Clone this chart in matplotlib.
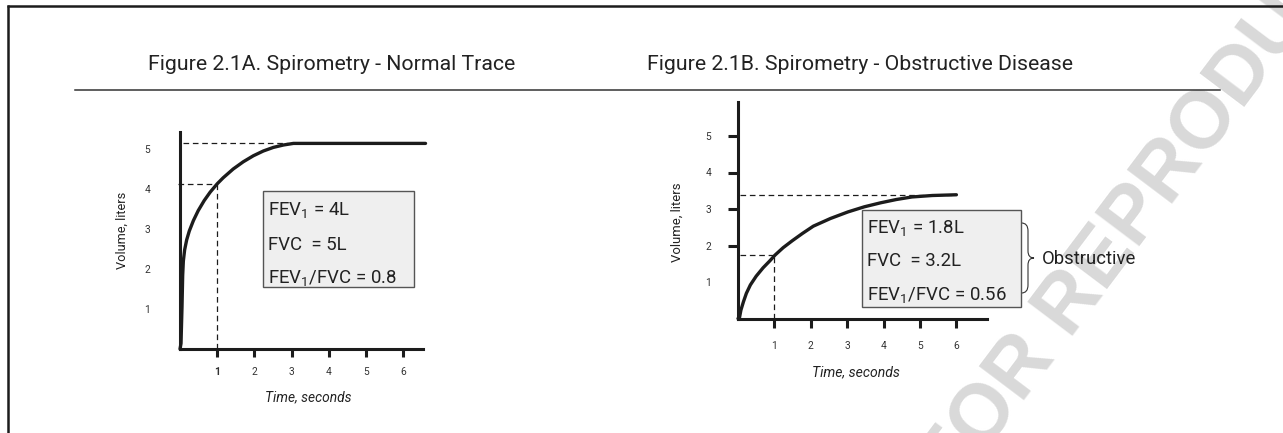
import matplotlib
matplotlib.use("Agg")
import matplotlib.pyplot as plt
from matplotlib.patches import Rectangle, PathPatch
from matplotlib.path import Path
from matplotlib.lines import Line2D
from matplotlib.transforms import Affine2D

# ---------------- data ----------------
title_a = "Figure 2.1A. Spirometry - Normal Trace"
title_b = "Figure 2.1B. Spirometry - Obstructive Disease"
x_label = "Time, seconds"
y_label = "Volume, liters"
x_ticks = [1, 2, 3, 4, 5, 6]
y_ticks = [1, 2, 3, 4, 5]

# normal trace (time s, volume L)
normal_t = [0, 0.027, 0.054, 0.072, 0.09, 0.125, 0.18, 0.25, 0.36, 0.49, 0.65, 0.81, 1.0,
            1.16, 1.43, 1.70, 1.97, 2.24, 2.51, 2.78, 3.05, 6.6]
normal_v = [0, 0.14, 1.06, 1.84, 2.20, 2.48, 2.73, 2.95, 3.21, 3.46, 3.71, 3.92, 4.13,
            4.28, 4.50, 4.68, 4.83, 4.95, 5.04, 5.10, 5.14, 5.14]
normal_fev1_level = 4.13
normal_fvc_level = 5.14
normal_fvc_time = 2.9
normal_text = [r"FEV$_1$ = 4L", "FVC  = 5L", r"FEV$_1$/FVC = 0.8"]

# obstructive trace
obs_t = [0, 0.04, 0.08, 0.15, 0.23, 0.34, 0.50, 0.69, 0.875, 1.02, 1.24, 1.49, 1.77, 2.07,
         2.54, 3.02, 3.47, 3.92, 4.35, 4.78, 5.34, 6.0]
obs_v = [0, 0.02, 0.23, 0.46, 0.69, 0.92, 1.16, 1.39, 1.58, 1.74, 1.94, 2.13, 2.33, 2.53,
         2.74, 2.92, 3.06, 3.17, 3.26, 3.33, 3.37, 3.39]
obs_fev1_level = 1.74
obs_fvc_level = 3.38
obs_fvc_time = 5.9
obs_text = [r"FEV$_1$ = 1.8L", "FVC  = 3.2L", r"FEV$_1$/FVC = 0.56"]
obs_note = "Obstructive"
watermark = "NOT FOR REPRODUCTION"

# ---------------- style ----------------
W, H = 1283, 433
FONT = "Roboto"
plt.rcParams["font.family"] = [FONT, "DejaVu Sans"]
plt.rcParams["mathtext.fontset"] = "custom"
plt.rcParams["mathtext.rm"] = FONT
plt.rcParams["mathtext.it"] = FONT + ":italic"
plt.rcParams["mathtext.bf"] = FONT + ":bold"

INK = "#1c1c1c"
TXT = "#222222"

fig = plt.figure(figsize=(W / 100, H / 100), dpi=100)
fig.patch.set_facecolor("white")
px = Affine2D().scale(1.0 / W, -1.0 / H).translate(0, 1) + fig.transFigure
renderer = fig.canvas.get_renderer()


def fit(t, target):
    w = t.get_window_extent(renderer).width
    t.set_fontsize(t.get_fontsize() * target / w)
    return t


# watermark (behind everything), ~80 px em
fig.text(1150, 232, watermark, transform=px, ha="center", va="baseline",
         rotation=53, rotation_mode="anchor", fontsize=58,
         fontfamily=["Liberation Sans", "DejaVu Sans"], fontweight="bold",
         color="#d9d9d9", zorder=-5)

# frame lines
fig.add_artist(Line2D([7, W], [5.5, 5.5], transform=px, color=INK, lw=1.8, solid_capstyle="butt"))
fig.add_artist(Line2D([8, 8], [4.6, H], transform=px, color=INK, lw=1.8, solid_capstyle="butt"))
fig.add_artist(Line2D([75, 1220], [90, 90], transform=px, color="#333333", lw=1.1))

# titles
tb = fig.text(647, 70.5, title_b, transform=px, ha="left", va="baseline", fontsize=14, color=TXT)
fit(tb, 430)
ta = fig.text(148, 70.5, title_a, transform=px, ha="left", va="baseline",
              fontsize=tb.get_fontsize(), color=TXT)


def make_axes(left, right, top, bottom, xs, ys):
    ax = fig.add_axes([left / W, 1 - bottom / H, (right - left) / W, (bottom - top) / H])
    ax.set_facecolor("none")
    ax.set_xlim(0, (right - left) / xs)
    ax.set_ylim(0, (bottom - top) / ys)
    for s in ("top", "right"):
        ax.spines[s].set_visible(False)
    for s in ("left", "bottom"):
        ax.spines[s].set_linewidth(2.2)
        ax.spines[s].set_color(INK)
        ax.spines[s].set_capstyle("projecting")
    ax.set_xticks(x_ticks)
    ax.set_xticklabels([str(v) for v in x_ticks])
    ax.set_yticks(y_ticks)
    ax.set_yticklabels([str(v) for v in y_ticks])
    return ax


dash = (0, (4.5, 3.0))

# ---------------- panel A ----------------
axA = make_axes(180, 423, 132, 349, 37.2, 40.0)
axA.tick_params(axis="x", direction="out", length=5.5, width=2.2, pad=7.5,
                labelsize=7.4, color=INK, labelcolor="#333333")
axA.tick_params(axis="y", length=0, pad=21.5, labelsize=7.4, labelcolor="#333333")
axA.get_xticklabels()[0].set_fontweight("bold")
axA.plot(normal_t, normal_v, color=INK, lw=2.4, solid_capstyle="round",
         solid_joinstyle="round", clip_on=False, zorder=4)
axA.plot([0.08, normal_fvc_time], [normal_fvc_level] * 2, color=INK, lw=0.9, ls=dash, clip_on=False)
axA.plot([-0.05, 1], [normal_fev1_level] * 2, color=INK, lw=0.9, ls=dash, clip_on=False)
axA.plot([1, 1], [0, normal_fev1_level], color=INK, lw=0.9, ls=dash, clip_on=False)

# ---------------- panel B ----------------
axB = make_axes(738, 987, 102, 318.5, 36.4, 36.5)
axB.tick_params(axis="x", direction="out", length=6.5, width=2.2, pad=9.5,
                labelsize=7.4, color=INK, labelcolor="#333333")
axB.tick_params(axis="y", direction="out", length=7.2, width=2.2, pad=12,
                labelsize=7.4, color=INK, labelcolor="#333333")
axB.yaxis.get_major_ticks()[0].tick1line.set_visible(False)
axB.plot(obs_t, obs_v, color=INK, lw=2.4, solid_capstyle="round",
         solid_joinstyle="round", clip_on=False, zorder=4)
axB.plot([0.05, obs_fvc_time], [obs_fvc_level] * 2, color=INK, lw=0.9, ls=dash, clip_on=False)
axB.plot([0.05, 1], [obs_fev1_level] * 2, color=INK, lw=0.9, ls=dash, clip_on=False)
axB.plot([1, 1], [0, obs_fev1_level], color=INK, lw=0.9, ls=dash, clip_on=False)

# ---------------- axis labels ----------------
def ylabel(xc, yc, length):
    t = fig.text(xc, yc, y_label, transform=px, ha="center", va="center", fontsize=9, color=TXT)
    fit(t, length)
    t.set_rotation(90)
    return t


def xlabel(xc, yc, length):
    t = fig.text(xc, yc, x_label, transform=px, ha="center", va="center", fontsize=9,
                 style="italic", color=TXT)
    return fit(t, length)


ylabel(122, 230, 78)
ylabel(677, 222, 80)
xlabel(308, 397, 86)
xlabel(856, 372, 88)

# ---------------- boxes ----------------
def box(x0, y0, x1, y1):
    r = Rectangle((x0, y0), x1 - x0, y1 - y0, transform=px, facecolor="#efefef",
                  edgecolor="#555555", lw=1.0, zorder=2)
    fig.add_artist(r)


box(263, 191, 414, 287)
box(862, 210, 1021, 306.5)

probe = fig.text(867, 300, obs_text[2], transform=px, ha="left", va="baseline", fontsize=12)
fit(probe, 140)
fs_box = probe.get_fontsize()
probe.remove()

for s, yb in zip(normal_text, [215, 250, 283]):
    fig.text(268, yb, s, transform=px, ha="left", va="baseline", fontsize=fs_box, color=TXT, zorder=3)
for s, yb in zip(obs_text, [232.5, 266, 300]):
    fig.text(867, yb, s, transform=px, ha="left", va="baseline", fontsize=fs_box, color=TXT, zorder=3)

# brace + note
verts = [(1021.5, 223), (1028, 223), (1028, 231), (1028, 251), (1028, 258), (1034, 258),
         (1028, 258), (1028, 265), (1028, 285), (1028, 293), (1021.5, 293)]
codes = [Path.MOVETO, Path.CURVE3, Path.CURVE3, Path.LINETO, Path.CURVE3, Path.CURVE3,
         Path.CURVE3, Path.CURVE3, Path.LINETO, Path.CURVE3, Path.CURVE3]
fig.add_artist(PathPatch(Path(verts, codes), transform=px, facecolor="none",
                         edgecolor="#333333", lw=0.8))
note = fig.text(1042, 264, obs_note, transform=px, ha="left", va="baseline", fontsize=fs_box,
                color=TXT, zorder=3)
fit(note, 94)

fig.savefig("out.png", dpi=100, facecolor="white")
